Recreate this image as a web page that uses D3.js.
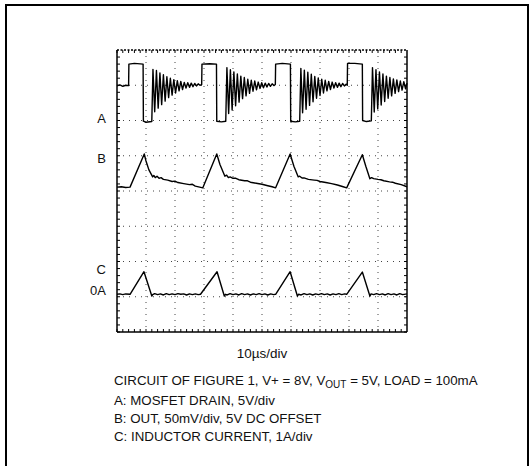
<!DOCTYPE html>
<html><head><meta charset="utf-8">
<script src="https://cdn.jsdelivr.net/npm/d3@7"></script>
<style>body{margin:0;background:#fff}svg{display:block}text{font-family:"Liberation Sans",Arial,sans-serif;fill:#111}</style>
</head><body><svg id="c" width="529" height="466"></svg>
<script>
// time in divisions (10 div @ 10us/div), level in divisions from bottom (8 div)
const traceA = [[0,6.98],[0.1,7.01],[0.2,6.97],[0.3,7.0],[0.4,6.99],[0.41,7.6],[0.6,7.62],[0.9,7.6],[0.91,5.98],[1.0,5.95],[1.2,5.97],
[1.24,7.45],[1.30,6.25],[1.36,7.42],[1.42,6.35],[1.48,7.35],[1.54,6.45],[1.60,7.30],[1.66,6.55],[1.72,7.24],[1.78,6.65],[1.84,7.2],[1.90,6.72],[1.96,7.16],[2.02,6.78],[2.08,7.13],[2.14,6.84],[2.20,7.11],[2.26,6.88],[2.32,7.08],[2.38,6.92],[2.44,7.07],[2.50,6.94],[2.56,7.06],[2.62,6.96],[2.68,7.05],[2.74,6.98],[2.80,7.04],[2.86,7.0],[2.92,7.02],
[2.93,7.6],[3.2,7.61],[3.43,7.6],[3.44,5.98],[3.6,5.96],[3.75,5.98],
[3.79,7.5],[3.85,6.2],[3.91,7.44],[3.97,6.3],[4.03,7.38],[4.09,6.42],[4.15,7.32],[4.21,6.52],[4.27,7.26],[4.33,6.62],[4.39,7.22],[4.45,6.7],[4.51,7.17],[4.57,6.77],[4.63,7.14],[4.69,6.83],[4.75,7.12],[4.81,6.87],[4.87,7.09],[4.93,6.91],[4.99,7.07],[5.05,6.93],[5.11,7.06],[5.17,6.95],[5.23,7.05],[5.29,6.97],[5.35,7.04],[5.41,6.99],[5.46,7.02],
[5.47,7.6],[5.7,7.62],[5.98,7.6],[5.99,5.98],[6.15,5.96],[6.30,5.98],
[6.34,7.48],[6.40,6.22],[6.46,7.43],[6.52,6.32],[6.58,7.37],[6.64,6.43],[6.70,7.31],[6.76,6.53],[6.82,7.25],[6.88,6.63],[6.94,7.21],[7.00,6.71],[7.06,7.17],[7.12,6.78],[7.18,7.14],[7.24,6.84],[7.30,7.11],[7.36,6.88],[7.42,7.09],[7.48,6.92],[7.54,7.07],[7.60,6.94],[7.66,7.06],[7.72,6.96],[7.78,7.05],[7.84,6.98],[7.90,7.03],[7.94,7.0],
[7.95,7.62],[8.2,7.62],[8.46,7.6],[8.47,6.0],[8.6,5.97],[8.77,5.99],
[8.81,7.5],[8.87,6.24],[8.93,7.44],[8.99,6.33],[9.05,7.38],[9.11,6.44],[9.17,7.32],[9.23,6.54],[9.29,7.26],[9.35,6.63],[9.41,7.22],[9.47,6.7],[9.53,7.18],[9.59,6.77],[9.65,7.15],[9.71,6.82],[9.77,7.12],[9.83,6.86],[9.89,7.1],[9.95,6.9],[10.0,7.06]];

const traceB = [[0,4.11],[0.15,4.12],[0.3,4.1],[0.45,4.11],[0.94,5.05],[1.0,4.85],[1.1,4.6],[1.23,4.40],[1.27,4.44],[1.32,4.38],[1.38,4.42],[1.45,4.36],[1.52,4.38],[1.6,4.33],[1.75,4.31],[1.9,4.27],[2.0,4.28],[2.1,4.24],[2.3,4.21],[2.5,4.18],[2.6,4.19],[2.7,4.14],[2.85,4.11],[2.96,4.09],
[3.44,5.05],[3.55,4.75],[3.72,4.42],[3.78,4.45],[3.84,4.38],[3.9,4.4],[4.0,4.36],[4.1,4.36],[4.2,4.32],[4.4,4.29],[4.5,4.29],[4.6,4.25],[4.8,4.22],[5.0,4.19],[5.2,4.15],[5.35,4.12],[5.47,4.09],
[5.97,5.05],[6.1,4.7],[6.25,4.40],[6.3,4.42],[6.38,4.37],[6.45,4.37],[6.6,4.33],[6.8,4.31],[6.9,4.3],[7.0,4.27],[7.2,4.24],[7.4,4.21],[7.6,4.17],[7.8,4.12],[7.92,4.09],
[8.46,5.03],[8.58,4.7],[8.72,4.35],[8.78,4.38],[8.85,4.35],[9.0,4.33],[9.1,4.32],[9.2,4.29],[9.4,4.26],[9.5,4.25],[9.6,4.22],[9.8,4.18],[10,4.12]];

const traceC = [[0,1.07],[0.1,1.08],[0.2,1.06],[0.3,1.08],[0.45,1.07],[0.93,1.71],[1.2,1.02],[1.23,1.06],[1.3,1.09],[1.4,1.06],[1.5,1.08],[1.6,1.05],[1.7,1.09],[1.8,1.06],[1.9,1.08],[2.0,1.06],[2.1,1.09],[2.2,1.07],[2.3,1.08],[2.4,1.05],[2.5,1.08],[2.6,1.06],[2.7,1.08],[2.8,1.06],[2.88,1.07],
[3.45,1.71],[3.7,1.02],[3.74,1.07],[3.8,1.05],[3.9,1.09],[4.0,1.06],[4.1,1.08],[4.2,1.05],[4.3,1.09],[4.4,1.06],[4.5,1.08],[4.6,1.05],[4.7,1.08],[4.8,1.06],[4.9,1.09],[5.0,1.06],[5.1,1.08],[5.2,1.05],[5.3,1.08],[5.4,1.06],[5.47,1.07],
[5.97,1.71],[6.22,1.02],[6.26,1.07],[6.35,1.05],[6.45,1.09],[6.55,1.06],[6.65,1.08],[6.75,1.05],[6.85,1.08],[6.95,1.06],[7.05,1.09],[7.15,1.06],[7.25,1.08],[7.35,1.05],[7.45,1.08],[7.55,1.06],[7.65,1.09],[7.75,1.06],[7.85,1.08],[7.92,1.07],
[8.46,1.70],[8.72,1.02],[8.76,1.08],[8.85,1.06],[8.95,1.09],[9.05,1.06],[9.15,1.08],[9.25,1.05],[9.35,1.09],[9.45,1.06],[9.55,1.08],[9.65,1.05],[9.75,1.09],[9.85,1.06],[10,1.08]];

const traceLabels = [["A",6.03],["B",4.88],["C",1.73],["0A",1.16]];
const timeLabel = "10µs/div";
const notes = ["A: MOSFET DRAIN, 5V/div","B: OUT, 50mV/div, 5V DC OFFSET","C: INDUCTOR CURRENT, 1A/div"];

const svg = d3.select("#c");
// outer frame
svg.append("rect").attr("x",6).attr("y",5).attr("width",522).attr("height",480)
  .attr("fill","none").attr("stroke","#000").attr("stroke-width",2);

const x = d3.scaleLinear().domain([0,10]).range([117,407]);
const y = d3.scaleLinear().domain([0,8]).range([332,50]);

const g = svg.append("g");
// dotted grid
g.selectAll(".vg").data(d3.range(1,10)).enter().append("line")
  .attr("x1",d=>x(d)).attr("x2",d=>x(d)).attr("y1",y(8)).attr("y2",y(0))
  .attr("stroke","#444").attr("stroke-width",1).attr("stroke-dasharray","1,5");
g.selectAll(".hg").data(d3.range(1,8)).enter().append("line")
  .attr("x1",x(0)).attr("x2",x(10)).attr("y1",d=>y(d)).attr("y2",d=>y(d))
  .attr("stroke","#444").attr("stroke-width",1).attr("stroke-dasharray","1,5");
// minor ticks along borders
const xt = d3.range(0,50).map(i=>i/5), yt = d3.range(0,40).map(i=>i/5);
g.selectAll(".bt").data(xt).enter().append("line").attr("x1",d=>x(d)).attr("x2",d=>x(d))
  .attr("y1",y(0)).attr("y2",y(0)-3).attr("stroke","#000");
g.selectAll(".tt").data(xt).enter().append("line").attr("x1",d=>x(d)).attr("x2",d=>x(d))
  .attr("y1",y(8)).attr("y2",y(8)+3).attr("stroke","#000");
g.selectAll(".lt").data(yt).enter().append("line").attr("y1",d=>y(d)).attr("y2",d=>y(d))
  .attr("x1",x(0)).attr("x2",x(0)+3).attr("stroke","#000");
g.selectAll(".rt").data(yt).enter().append("line").attr("y1",d=>y(d)).attr("y2",d=>y(d))
  .attr("x1",x(10)).attr("x2",x(10)-3).attr("stroke","#000");
// border
g.append("line").attr("x1",x(0)).attr("x2",x(10)).attr("y1",y(8)).attr("y2",y(8)).attr("stroke","#000").attr("stroke-width",1.5).attr("stroke-dasharray","2,1.5");
g.append("line").attr("x1",x(0)).attr("x2",x(10)).attr("y1",y(0)).attr("y2",y(0)).attr("stroke","#000").attr("stroke-width",1.6);
g.append("line").attr("x1",x(0)).attr("x2",x(0)).attr("y1",y(8)).attr("y2",y(0)).attr("stroke","#000").attr("stroke-width",1.5);
g.append("line").attr("x1",x(10)).attr("x2",x(10)).attr("y1",y(8)).attr("y2",y(0)).attr("stroke","#000").attr("stroke-width",1.5);

const line = d3.line().x(d=>x(d[0])).y(d=>y(d[1]));
[traceA,traceB,traceC].forEach(t=>{
  g.append("path").datum(t).attr("d",line).attr("fill","none").attr("stroke","#000").attr("stroke-width",1.4).attr("stroke-linejoin","round");
});

// trace labels
svg.selectAll(".tl").data(traceLabels).enter().append("text")
  .attr("x",106).attr("y",d=>y(d[1])).attr("text-anchor","end").attr("dominant-baseline","middle")
  .attr("font-size",13).text(d=>d[0]);

svg.append("text").attr("x",(x(0)+x(10))/2).attr("y",358).attr("text-anchor","middle").attr("font-size",13.5).text(timeLabel);

const t0 = svg.append("text").attr("x",114).attr("y",385).attr("font-size",13.3);
t0.append("tspan").text("CIRCUIT OF FIGURE 1, V+ = 8V, V");
t0.append("tspan").attr("font-size",10).attr("dy",3).text("OUT");
t0.append("tspan").attr("dy",-3).text(" = 5V, LOAD = 100mA");
svg.selectAll(".nt").data(notes).enter().append("text")
  .attr("x",114).attr("y",(d,i)=>405+i*18).attr("font-size",13.3).text(d=>d);
</script></body></html>
